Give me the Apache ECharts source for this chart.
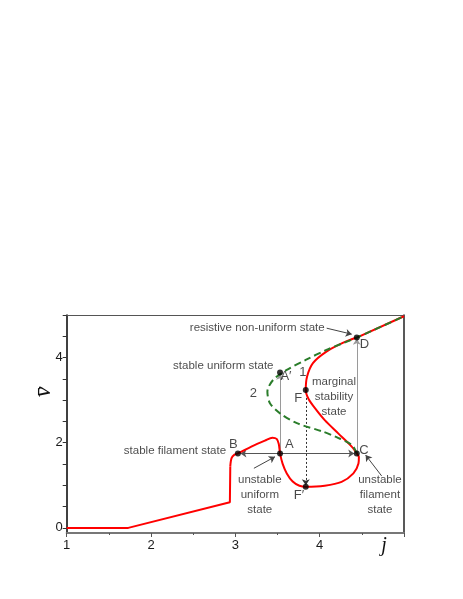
<!DOCTYPE html>
<html>
<head>
<meta charset="utf-8">
<script src="https://cdn.jsdelivr.net/npm/echarts@6/dist/echarts.min.js"></script>
<style>
  html, body { margin: 0; padding: 0; background: #fff; }
  #chart { width: 463px; height: 599px; }
</style>
</head>
<body>
<div id="chart"></div>
<script>
// axis ticks
const xTickLabels = [1, 2, 3, 4]
const yTickLabels = [0, 2, 4]
const yTickValues = [0, 0.5, 1, 1.5, 2, 2.5, 3, 3.5, 4, 4.5, 5]

// curve 1 (solid red): low branch, S-shaped branch, high branch
const redLow = [[1, 0], [1.73, 0], [2.935, 0.6], [2.94, 1.45]]
const redCurve = [
  [2.94, 1.45], [2.955, 1.64], [2.99, 1.72], [3.03, 1.75], [3.19, 1.91], [3.35, 2.05],
  [3.44, 2.12], [3.49, 2.09], [3.515, 1.97], [3.53, 1.75], [3.56, 1.51], [3.61, 1.28],
  [3.68, 1.09], [3.76, 0.99], [3.835, 0.965], [4.06, 0.99], [4.26, 1.08], [4.40, 1.28],
  [4.46, 1.51], [4.465, 1.66], [4.44, 1.75], [4.38, 1.91], [4.22, 2.22], [4.06, 2.53],
  [3.96, 2.77], [3.87, 3.02], [3.835, 3.24], [3.85, 3.55], [3.92, 3.87], [4.08, 4.14],
  [4.28, 4.35], [4.44, 4.47]
]
const redHigh = [[4.44, 4.47], [5, 4.97]]

// curve 2 (dashed green)
const greenCurve = [
  [4.44, 1.75], [4.38, 1.95], [4.2, 2.13], [4.04, 2.26], [3.73, 2.46], [3.53, 2.69],
  [3.41, 2.93], [3.38, 3.2], [3.45, 3.48], [3.61, 3.71], [3.84, 3.95], [4.08, 4.18],
  [4.28, 4.34], [4.44, 4.47], [5, 4.97]
]

// marked states
const statePoints = [
  ['B', [3.03, 1.75]], ['A', [3.53, 1.75]], ['C', [4.44, 1.75]], ['A\u2032', [3.53, 3.65]],
  ['F', [3.835, 3.24]], ['F\u2032', [3.835, 0.965]], ['D', [4.44, 4.47]]
]
const pointLabels = [
  ['B', [2.975, 1.95]], ['A', [3.64, 1.96]], ['C', [4.525, 1.83]], ['A\u2032', [3.60, 3.55]],
  ['F', [3.745, 3.03]], ['F\u2032', [3.755, 0.77]], ['D', [4.53, 4.32]],
  ['1', [3.80, 3.66]], ['2', [3.213, 3.16]]
]
const notes = [
  ['resistive non-uniform state', [3.26, 4.69]],
  ['stable uniform state', [2.857, 3.81]],
  ['stable filament state', [2.284, 1.81]],
  ['marginal\nstability\nstate', [4.17, 3.08]],
  ['unstable\nuniform\nstate', [3.29, 0.77]],
  ['unstable\nfilament\nstate', [4.715, 0.77]]
]

// transitions between states
const jumpsGray = [
  [[3.53, 1.75], [3.53, 3.62]],
  [[4.44, 1.75], [4.44, 4.44]]
]
const jumpsDark = [
  [[3.53, 1.75], [3.06, 1.75]],
  [[3.53, 1.75], [4.41, 1.75]]
]
const jumpDotted = [[[3.835, 3.24], [3.835, 1.0]]]
const notePointers = [
  [[4.083, 4.69], [4.38, 4.55]],
  [[3.22, 1.40], [3.47, 1.67]],
  [[4.735, 1.22], [4.545, 1.71]]
]

const font = 'Liberation Sans, Arial, sans-serif'
const chart = echarts.init(document.getElementById('chart'))

const arrowLines = (data, color, type, z) => ({
  type: 'lines',
  coordinateSystem: 'cartesian2d',
  polyline: false,
  symbol: ['none', 'arrow'],
  symbolSize: 6,
  silent: true,
  z: z,
  lineStyle: { color: color, width: 1, type: type, opacity: 1 },
  data: data.map((c) => ({ coords: c }))
})

const textSeries = (data, size, lineHeight) => ({
  type: 'scatter',
  symbolSize: 1,
  silent: true,
  z: 6,
  itemStyle: { color: 'transparent' },
  label: {
    show: true,
    position: 'inside',
    formatter: '{b}',
    color: '#1a1a1a',
    fontSize: size,
    lineHeight: lineHeight,
    fontFamily: font,
    align: 'center'
  },
  data: data.map((d) => ({ name: d[0], value: d[1] }))
})

const option = {
  animation: false,
  backgroundColor: '#fff',
  grid: { left: 66.7, right: 59, top: 315, bottom: 66, containLabel: false },
  xAxis: [
    {
      type: 'value', min: 1, max: 5, interval: 1,
      axisLine: { show: true, onZero: false, lineStyle: { color: '#777', width: 2 } },
      axisTick: { show: true, length: 4, lineStyle: { color: '#555' } },
      minorTick: { show: true, splitNumber: 2, length: 2, lineStyle: { color: '#555' } },
      splitLine: { show: false },
      axisLabel: {
        color: '#1a1a1a', fontSize: 13, fontFamily: font, margin: 6,
        formatter: (v) => (xTickLabels.indexOf(v) >= 0 ? String(v) : '')
      }
    },
    {
      type: 'value', min: 1, max: 5, position: 'top',
      axisLine: { show: true, onZero: false, lineStyle: { color: '#555', width: 1 } },
      axisTick: { show: false }, axisLabel: { show: false }, splitLine: { show: false }
    }
  ],
  yAxis: [
    {
      type: 'value', min: -0.12, max: 5,
      axisLine: { show: true, onZero: false, lineStyle: { color: '#000', width: 1.5 } },
      axisTick: { show: true, length: 4, customValues: yTickValues, lineStyle: { color: '#333' } },
      splitLine: { show: false },
      axisLabel: { color: '#1a1a1a', fontSize: 13, fontFamily: font, margin: 4, customValues: yTickLabels }
    },
    {
      type: 'value', min: -0.12, max: 5, position: 'right',
      axisLine: { show: true, onZero: false, lineStyle: { color: '#222', width: 1.5 } },
      axisTick: { show: false }, axisLabel: { show: false }, splitLine: { show: false }
    }
  ],
  graphic: [
    {
      type: 'text', x: 44, y: 392, rotation: Math.PI / 2,
      style: { text: 'v\u0304', font: 'italic 24px "Liberation Serif", "DejaVu Serif", serif', fill: '#111', align: 'center', verticalAlign: 'middle' }
    },
    {
      type: 'text', x: 384, y: 546,
      style: { text: 'j', font: 'italic 20px "Liberation Serif", "DejaVu Serif", serif', fill: '#111', align: 'center', verticalAlign: 'middle' }
    }
  ],
  series: [
    arrowLines(jumpsGray, '#9a9a9a', 'solid', 1),
    arrowLines(jumpsDark, '#555', 'solid', 1),
    arrowLines(jumpDotted, '#333', [2, 2], 1),
    arrowLines(notePointers, '#444', 'solid', 1),
    {
      type: 'line', data: redLow, showSymbol: false, silent: true, z: 2,
      lineStyle: { color: '#ff0000', width: 2 }
    },
    {
      type: 'line', data: redCurve, smooth: 0.3, showSymbol: false, silent: true, z: 2,
      lineStyle: { color: '#ff0000', width: 2 }
    },
    {
      type: 'line', data: redHigh, showSymbol: false, silent: true, z: 2,
      lineStyle: { color: '#ff0000', width: 2 }
    },
    {
      type: 'line', data: greenCurve, smooth: 0.3, showSymbol: false, silent: true, z: 3,
      lineStyle: { color: '#2a7d2a', width: 2, type: [7, 4] }
    },
    {
      type: 'scatter', symbolSize: 6, silent: true, z: 4,
      itemStyle: { color: '#000' },
      data: statePoints.map((p) => ({ name: p[0], value: p[1] }))
    },
    textSeries(pointLabels, 13, 15),
    textSeries(notes, 11.5, 15)
  ]
}

chart.setOption(option)
</script>
</body>
</html>
